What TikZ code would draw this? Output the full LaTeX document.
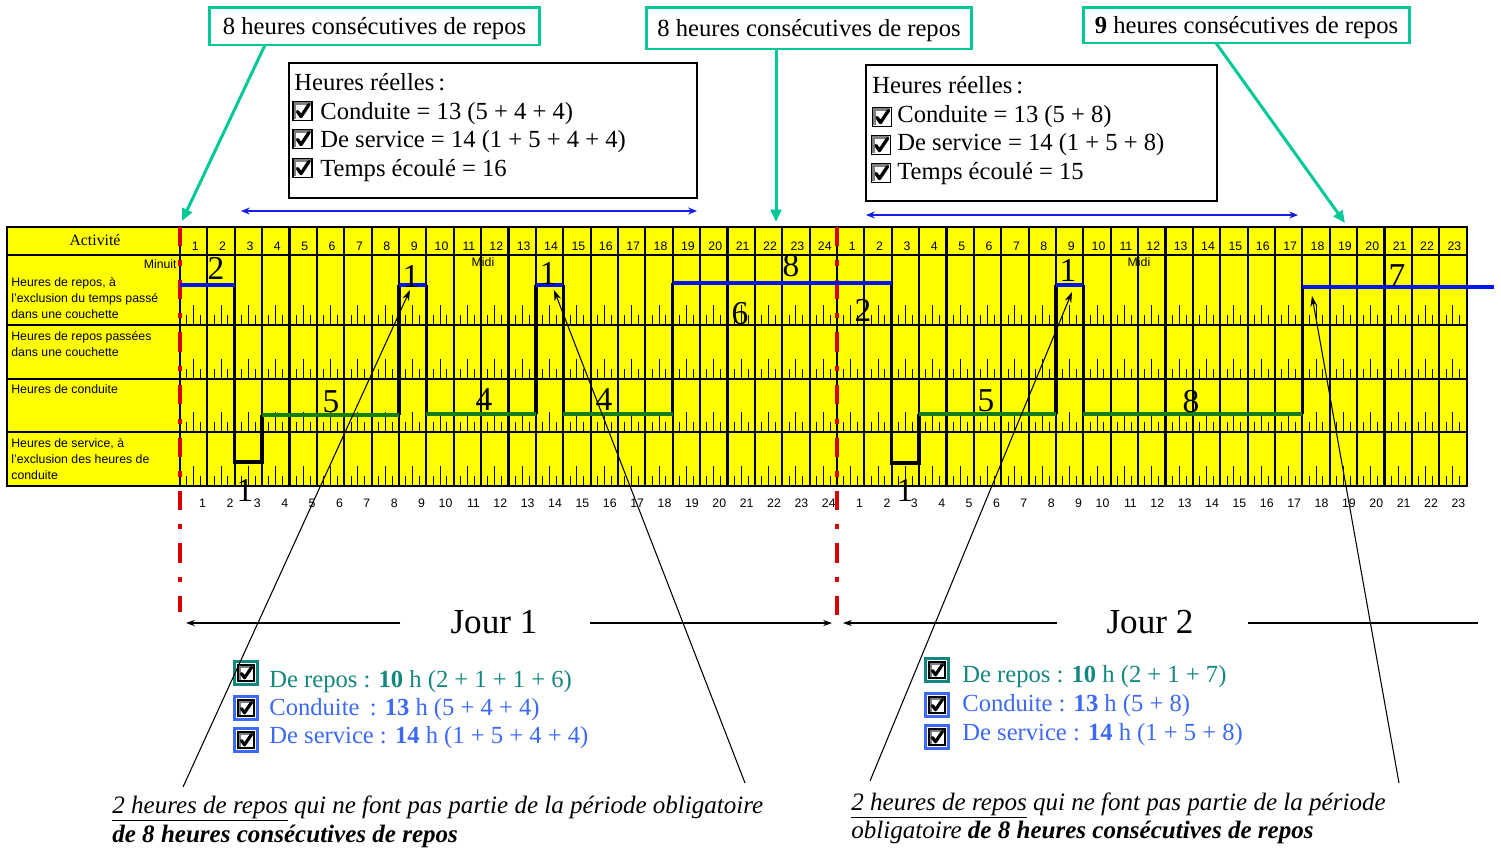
\documentclass[tikz,border=0pt]{standalone}
\usepackage{fontspec}
\setmainfont{Liberation Serif}
\setsansfont{Liberation Sans}
\usetikzlibrary{arrows.meta}
\definecolor{gy}{RGB}{255,255,0}
\definecolor{tealbox}{RGB}{0,200,150}
\definecolor{tealtxt}{RGB}{18,135,125}
\definecolor{bluetxt}{RGB}{60,105,245}
\definecolor{restblue}{RGB}{0,20,240}
\definecolor{drivegreen}{RGB}{20,125,20}
\definecolor{reddash}{RGB}{215,0,0}
\definecolor{arrowblue}{RGB}{20,30,230}
\begin{document}
\begin{tikzpicture}[x=0.02cm,y=-0.02cm,
 tick/.style={line width=0.55pt},
 gridline/.style={line width=1.2pt},
 hnum/.style={font=\sffamily\fontsize{7}{8}\selectfont,inner sep=0pt},
 rowlab/.style={font=\sffamily\fontsize{7}{9}\selectfont,anchor=base west,inner sep=0pt},
 bigd/.style={font=\fontsize{19}{19}\selectfont,inner sep=0pt},
 stepv/.style={line width=1.9pt,line join=miter},
 rest/.style={restblue,line width=2pt},
 drive/.style={drivegreen,line width=2pt},
 redline/.style={reddash,line width=1.8pt,dash pattern=on 11pt off 8pt on 3pt off 8pt},
 topbox/.style={draw=tealbox,line width=1.7pt,font=\fontsize{14}{16}\selectfont,inner sep=0pt,text depth=0pt},
 garrow/.style={tealbox,line width=1.7pt,-{Triangle[length=7pt,width=6pt]}},
 itext/.style={font=\fontsize{14}{16}\selectfont,anchor=base west,inner sep=0pt},
 barrow/.style={arrowblue,line width=0.6pt,{Stealth[length=5pt,width=4pt]}-{Stealth[length=5pt,width=4pt]}},
 jtext/.style={font=\fontsize{20}{22}\selectfont,inner sep=0pt},
 jarrow/.style={line width=0.6pt,-{Stealth[length=5pt,width=3.5pt]}},
 ptr/.style={line width=0.6pt,-{Stealth[length=6pt,width=4pt]}},
 tealt/.style={font=\fontsize{14}{16}\selectfont,anchor=base west,inner sep=0pt,text=tealtxt},
 bluet/.style={font=\fontsize{14}{16}\selectfont,anchor=base west,inner sep=0pt,text=bluetxt},
 foot/.style={font=\itshape\fontsize{14.25}{16}\selectfont,anchor=base west,inner sep=0pt},
 pics/chk/.style={code={
   \fill[white] (-9.5,-9.5) rectangle (9.5,9.5);
   \draw[black!50,line width=1.5pt] (-7.5,8) -- (-7.5,-7.5) -- (8,-7.5);
   \draw[black,line width=1pt] (-9.5,-9.5) rectangle (9.5,9.5);
   \draw[line width=1.9pt,line join=round,line cap=round] (-5,0.5) -- (-1.5,5.5) -- (6.5,-6.5);
 }},
 pics/chkf/.style={code={
   \fill[white] (-11.5,-11.5) rectangle (11.5,11.5);
   \draw[#1,line width=1.4pt] (-11.5,-11.5) rectangle (11.5,11.5);
   \draw[black!50,line width=1.4pt] (-6.3,7) -- (-6.3,-6.3) -- (7,-6.3);
   \draw[black,line width=1pt] (-8,-8) rectangle (8,8);
   \draw[line width=1.8pt,line join=round,line cap=round] (-4.5,0.5) -- (-1.5,4.8) -- (5.5,-5.5);
 }}
]
\useasboundingbox (0,0) rectangle (1501,850);

% ---------- grid ----------
\fill[gy] (7,227) rectangle (1467,486);
\foreach \r in {325,379,432,486}{
  \foreach \i in {0,...,46}{
    \draw[tick] ({180+\i*27.375+6.84},\r) -- ++(0,-10);
    \draw[tick] ({180+\i*27.375+13.69},\r) -- ++(0,-20);
    \draw[tick] ({180+\i*27.375+20.53},\r) -- ++(0,-10);
  }
}
\foreach \i in {0,...,46}{
  \draw[gridline] ({180+\i*27.375},227) -- ({180+\i*27.375},486);
}
\foreach \y in {255,325,379,432}{
  \draw[gridline] (7,\y) -- (1467,\y);
}
\draw[gridline] (7,227) rectangle (1467,486);

% header
\node[font=\fontsize{9}{10}\selectfont,inner sep=0pt] (act) at (95,240) {Activité};
\foreach \i in {1,...,24}{
  \node[hnum] (ha\i) at ({180+(\i-0.5)*27.375+1.5},246) {\i};
  \node[hnum,anchor=east] (ba\i) at ({180+\i*27.375-1},503) {\i};
}
\foreach \i in {1,...,23}{
  \node[hnum] (hb\i) at ({837+(\i-0.5)*27.375+1.5},246) {\i};
  \node[hnum,anchor=east] (bb\i) at ({837+\i*27.375-1},503) {\i};
}
\node[hnum,anchor=east] (minuit) at (177,264) {Minuit};
\node[hnum] (midi1) at (483,262) {Midi};
\node[hnum] (midi2) at (1139,262) {Midi};

% row labels
\node[rowlab] (r1a) at (11,286) {Heures de repos, à};
\node[rowlab] (r1b) at (11,302) {l’exclusion du temps passé};
\node[rowlab] (r1c) at (11,318) {dans une couchette};
\node[rowlab] (r2a) at (11,340) {Heures de repos passées};
\node[rowlab] (r2b) at (11,356) {dans une couchette};
\node[rowlab] (r3a) at (11,393) {Heures de conduite};
\node[rowlab] (r4a) at (11,447) {Heures de service, à};
\node[rowlab] (r4b) at (11,463) {l’exclusion des heures de};
\node[rowlab] (r4c) at (11,479) {conduite};

% red dashed midnight lines
\draw[redline] (180,227) -- (180,612);
\draw[redline] (837,227) -- (837,628);

% ---------- activity step line ----------
\draw[stepv] (234.75,285) -- (234.75,462) -- (262.125,462) -- (262.125,415);
\draw[stepv] (399,415) -- (399,285);
\draw[stepv] (426.375,285) -- (426.375,414);
\draw[stepv] (535.875,414) -- (535.875,285);
\draw[stepv] (563.25,285) -- (563.25,414);
\draw[stepv] (672.75,414) -- (672.75,283);
\draw[stepv] (891.75,283) -- (891.75,463) -- (919.125,463) -- (919.125,414);
\draw[stepv] (1056,414) -- (1056,285);
\draw[stepv] (1083.375,285) -- (1083.375,414);
\draw[stepv] (1302.375,414) -- (1302.375,287);

\draw[rest] (180,285) -- (234.75,285);
\draw[rest] (399,285) -- (426.375,285);
\draw[rest] (535.875,285) -- (563.25,285);
\draw[rest] (672.75,283) -- (891.75,283);
\draw[rest] (1056,285) -- (1083.375,285);
\draw[rest] (1302.375,287) -- (1494,287);

\draw[drive] (262.125,415) -- (399,415);
\draw[drive] (426.375,414) -- (535.875,414);
\draw[drive] (563.25,414) -- (672.75,414);
\draw[drive] (919.125,414) -- (1056,414);
\draw[drive] (1083.375,414) -- (1302.375,414);

% big numbers
\node[bigd] (n1) at (216,268) {2};
\node[bigd] (n2) at (245,490) {1};
\node[bigd] (n3) at (331,402) {5};
\node[bigd] (n4) at (411,276) {1};
\node[bigd] (n5) at (484,400) {4};
\node[bigd] (n6) at (548,273) {1};
\node[bigd] (n7) at (604,400) {4};
\node[bigd] (n8) at (791,266) {8};
\node[bigd] (n9) at (740,314) {6};
\node[bigd] (n10) at (863,310) {2};
\node[bigd] (n11) at (905,490) {1};
\node[bigd] (n12) at (986,401) {5};
\node[bigd] (n13) at (1068,270) {1};
\node[bigd] (n14) at (1191,402) {8};
\node[bigd] (n15) at (1397,276) {7};

% ---------- top boxes ----------
\node[topbox,minimum width=6.62cm,minimum height=0.76cm] (tb1) at (374.5,26) {8 heures consécutives de repos\hspace{8pt}};
\node[topbox,minimum width=6.52cm,minimum height=0.84cm] (tb2) at (809,28) {8 heures consécutives de repos\hspace{5pt}};
\node[topbox,minimum width=6.54cm,minimum height=0.72cm] (tb3) at (1246.5,25) {\textbf{9} heures consécutives de repos\hspace{4pt}};
\coordinate (s1) at (265,45);  \coordinate (e1) at (182,221);
\coordinate (s2) at (776,49);  \coordinate (e2) at (776,222);
\coordinate (s3) at (1216,43); \coordinate (e3) at (1345,223);
\draw[garrow] (s1) -- (e1);
\draw[garrow] (s2) -- (e2);
\draw[garrow] (s3) -- (e3);

% ---------- info boxes ----------
\draw[line width=0.9pt] (289,63) rectangle (697,198);
\node[itext] (i1a) at (294,90) {Heures réelles\,:};
\pic at (302.5,111) {chk};
\pic at (302.5,139) {chk};
\pic at (302.5,168) {chk};
\node[itext] (i1b) at (320,119) {Conduite = 13 (5 + 4 + 4)};
\node[itext] (i1c) at (320,147) {De service = 14 (1 + 5 + 4 + 4)};
\node[itext] (i1d) at (320,176) {Temps écoulé = 16};

\draw[line width=0.9pt] (866,65) rectangle (1217,201);
\node[itext] (i2a) at (872,93) {Heures réelles\,:};
\pic at (882,117) {chk};
\pic at (881,145) {chk};
\pic at (881,173) {chk};
\node[itext] (i2b) at (897,122) {Conduite = 13 (5 + 8)};
\node[itext] (i2c) at (897,150) {De service = 14 (1 + 5 + 8)};
\node[itext] (i2d) at (897,179) {Temps écoulé = 15};

\coordinate (ba) at (241,211); \coordinate (bb) at (697,211);
\coordinate (bc) at (866,215); \coordinate (bd) at (1298,215);
\draw[barrow] (ba) -- (bb);
\draw[barrow] (bc) -- (bd);

% ---------- Jour ----------
\node[jtext] (j1) at (494,622) {Jour 1};
\node[jtext] (j2) at (1150,622) {Jour 2};
\coordinate (j1l) at (400,623); \coordinate (j1le) at (186,623);
\coordinate (j1r) at (590,623); \coordinate (j1re) at (832,623);
\coordinate (j2l) at (1057,623); \coordinate (j2le) at (843,623);
\coordinate (j2r) at (1248,623); \coordinate (j2re) at (1478,623);
\draw[jarrow] (j1l) -- (j1le);
\draw[jarrow] (j1r) -- (j1re);
\draw[jarrow] (j2l) -- (j2le);
\draw[line width=0.6pt] (j2r) -- (j2re);

% ---------- checklists ----------
\pic at (246,673) {chkf=tealtxt};
\pic at (246,708) {chkf=bluetxt};
\pic at (246,740) {chkf=bluetxt};
\node[tealt] (t1) at (269,687) {De repos : \textbf{10} h (2 + 1 + 1 + 6)};
\node[bluet] (t2) at (269,715) {Conduite\, : \textbf{13} h (5 + 4 + 4)};
\node[bluet] (t3) at (269,743) {De service : \textbf{14} h (1 + 5 + 4 + 4)};

\pic at (937,670) {chkf=tealtxt};
\pic at (937,705) {chkf=bluetxt};
\pic at (937,737) {chkf=bluetxt};
\node[tealt] (t4) at (962,682) {De repos : \textbf{10} h (2 + 1 + 7)};
\node[bluet] (t5) at (962,711) {Conduite : \textbf{13} h (5 + 8)};
\node[bluet] (t6) at (962,740) {De service : \textbf{14} h (1 + 5 + 8)};

% ---------- footnotes ----------
\node[foot] (f1) at (112,813) {\underline{2 heures de repos} qui ne font pas partie de la période obligatoire};
\node[foot] (f2) at (112,842) {\textbf{de 8 heures consécutives de repos}};
\node[foot] (f3) at (851,810) {\underline{2 heures de repos} qui ne font pas partie de la période};
\node[foot] (f4) at (851,838) {obligatoire \textbf{de 8 heures consécutives de repos}};

% ---------- pointer arrows ----------
\coordinate (p1s) at (183,787);  \coordinate (p1e) at (410,290);
\coordinate (p2s) at (745,783);  \coordinate (p2e) at (554,290);
\coordinate (p3s) at (870,781);  \coordinate (p3e) at (1072,292);
\coordinate (p4s) at (1399,783); \coordinate (p4e) at (1312,296);
\draw[ptr] (p1s) -- (p1e);
\draw[ptr] (p2s) -- (p2e);
\draw[ptr] (p3s) -- (p3e);
\draw[ptr] (p4s) -- (p4e);
\end{tikzpicture}
\end{document}
